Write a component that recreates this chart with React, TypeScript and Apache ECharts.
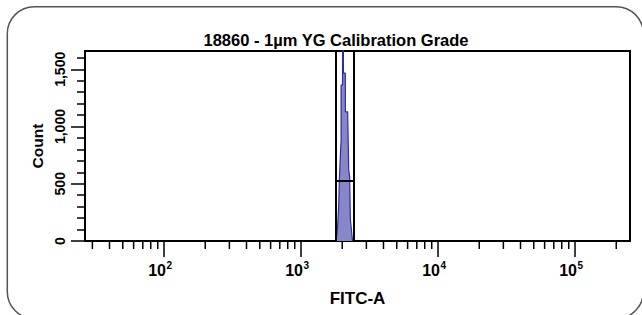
import React, { useEffect, useRef } from 'react';
import * as echarts from 'echarts';

const TITLE = '18860 - 1µm YG Calibration Grade';
const X_NAME = 'FITC-A';
const Y_NAME = 'Count';

// histogram outline (FITC-A value, count)
const histX = [1800, 1850, 1883, 1904, 1936, 1962, 1962, 2010, 2012, 2038, 2040, 2106, 2108, 2190, 2230, 2265, 2292, 2345, 2378];
const histY = [0, 125, 300, 530, 736, 880, 1362, 1362, 2200, 2200, 1467, 1467, 1129, 1129, 620, 560, 190, 70, 0];

// gate
const gateLow = 1780;
const gateHigh = 2425;
const gateLevel = 530;

const xMin = 26.5;
const xMax = 252000;
const yMin = 0;
const yMax = 1660;

const yMajorTicks = [0, 500, 1000, 1500];
const yMinorTicks = [100, 200, 300, 400, 600, 700, 800, 900, 1100, 1200, 1300, 1400, 1600];
const xMajorTicks = [100, 1000, 10000, 100000];
const xMajorExp = ['2', '3', '4', '5'];
const xMinorTicks = [
  30, 40, 50, 60, 70, 80, 90,
  200, 300, 400, 500, 600, 700, 800, 900,
  2000, 3000, 4000, 5000, 6000, 7000, 8000, 9000,
  20000, 30000, 40000, 50000, 60000, 70000, 80000, 90000,
  200000,
];

const FONT = '"Liberation Sans", Arial, sans-serif';

export default function App() {
  const ref = useRef<HTMLDivElement>(null);
  useEffect(() => {
    if (!ref.current) return;
    const chart = echarts.init(ref.current, undefined, { renderer: 'svg' });
    const tickData: any[] = [
      ...xMajorTicks.map((v, i) => [v, 1, i]),
      ...xMinorTicks.map((v) => [v, 0, -1]),
    ];
    chart.setOption({
      animation: false,
      backgroundColor: '#ffffff',
      title: {
        text: TITLE,
        left: 331,
        textAlign: 'center',
        top: 26,
        textStyle: { fontFamily: FONT, fontSize: 16.5, fontWeight: 'bold', color: '#000' },
      },
      graphic: [
        {
          type: 'rect',
          silent: true,
          shape: { x: 7.3, y: 6.7, width: 636, height: 312, r: 27 },
          style: { fill: 'none', stroke: '#555', lineWidth: 1.5 },
        },
      ],
      grid: {
        left: 85, right: 12, top: 51, bottom: 74,
        show: true, borderColor: '#000', borderWidth: 2, backgroundColor: 'transparent',
      },
      xAxis: {
        type: 'log', logBase: 10, min: xMin, max: xMax,
        name: X_NAME, nameLocation: 'middle', nameGap: 49,
        nameTextStyle: { fontFamily: FONT, fontSize: 17, fontWeight: 'bold', color: '#000' },
        axisLine: { show: true, lineStyle: { color: '#000', width: 2 } },
        axisTick: { show: false },
        axisLabel: { show: false },
        splitLine: { show: false },
        minorTick: { show: false },
      },
      yAxis: [
        {
          type: 'value', min: yMin, max: yMax,
          name: Y_NAME, nameLocation: 'middle', nameGap: 40, nameRotate: 90,
          nameTextStyle: { fontFamily: FONT, fontSize: 15.5, fontWeight: 'bold', color: '#000' },
          axisLine: { show: true, lineStyle: { color: '#000', width: 2 } },
          axisTick: { show: true, customValues: yMajorTicks, length: 14, lineStyle: { color: '#000', width: 1.5 } },
          axisLabel: {
            customValues: yMajorTicks, rotate: 90, margin: 18,
            formatter: (v: number) => v.toLocaleString('en-US'),
            fontFamily: FONT, fontSize: 14, fontWeight: 'bold', color: '#000',
          },
          splitLine: { show: false },
        },
        {
          type: 'value', min: yMin, max: yMax, position: 'left',
          axisLine: { show: false },
          axisTick: { show: true, customValues: yMinorTicks, length: 8, lineStyle: { color: '#000', width: 1.5 } },
          axisLabel: { show: false },
          splitLine: { show: false },
        },
      ],
      series: [
        {
          type: 'line',
          data: histX.map((x, i) => [x, histY[i]]),
          symbol: 'none',
          showSymbol: false,
          clip: true,
          lineStyle: { color: '#2d2d9e', width: 1.2 },
          areaStyle: { color: '#8686c8', opacity: 1 },
          z: 2,
          markLine: {
            silent: true,
            symbol: 'none',
            label: { show: false },
            lineStyle: { color: '#000', width: 2, type: 'solid' },
            data: [
              { xAxis: gateLow },
              { xAxis: gateHigh },
              [{ coord: [gateLow, gateLevel] }, { coord: [gateHigh, gateLevel] }],
            ],
          },
        },
        {
          type: 'custom',
          data: tickData,
          clip: false,
          silent: true,
          z: 5,
          renderItem: (params: any, api: any) => {
            const v = api.value(0);
            const major = api.value(1) === 1;
            const idx = api.value(2);
            const p = api.coord([v, 0]);
            const children: any[] = [
              {
                type: 'line',
                shape: { x1: p[0], y1: p[1], x2: p[0], y2: p[1] + (major ? 16 : 8) },
                style: { stroke: '#000', lineWidth: 1.5 },
              },
            ];
            if (major) {
              children.push({
                type: 'text',
                x: p[0] + 2, y: p[1] + 21,
                style: {
                  text: '10', fill: '#000', textFill: '#000',
                  font: 'bold 16px ' + FONT,
                  align: 'right', textAlign: 'right',
                  verticalAlign: 'top', textVerticalAlign: 'top',
                },
              });
              children.push({
                type: 'text',
                x: p[0] + 2.5, y: p[1] + 19.5,
                style: {
                  text: xMajorExp[idx], fill: '#000', textFill: '#000',
                  font: 'bold 10px ' + FONT,
                  align: 'left', textAlign: 'left',
                  verticalAlign: 'top', textVerticalAlign: 'top',
                },
              });
            }
            return { type: 'group', children };
          },
        },
      ],
    });
    return () => chart.dispose();
  }, []);
  return <div ref={ref} style={{ position: 'absolute', left: 0, top: 0, width: 642, height: 315 }} />;
}
